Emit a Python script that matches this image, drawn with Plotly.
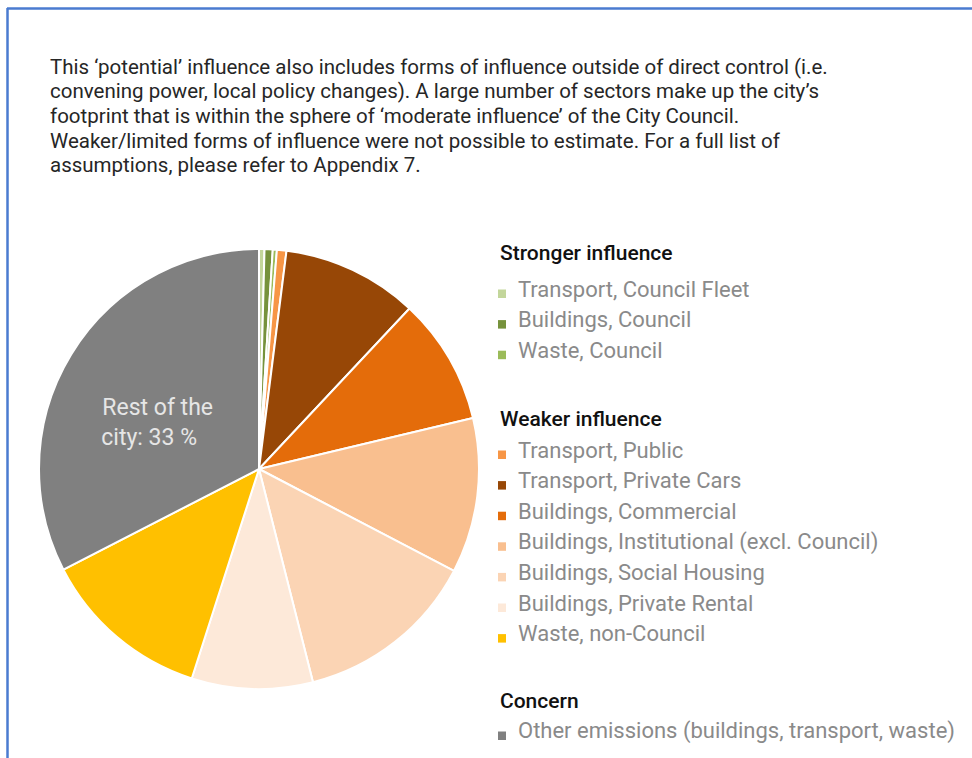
import plotly.graph_objects as go

W, H = 972, 758

# ---- data ----
categories = [
    "Transport, Council Fleet",
    "Buildings, Council",
    "Waste, Council",
    "Transport, Public",
    "Transport, Private Cars",
    "Buildings, Commercial",
    "Buildings, Institutional (excl. Council)",
    "Buildings, Social Housing",
    "Buildings, Private Rental",
    "Waste, non-Council",
    "Other emissions (buildings, transport, waste)",
]
values = [0.4, 0.6, 0.3, 0.7, 10.0, 9.3, 11.4, 13.4, 8.9, 12.5, 32.6]
groups = ["Stronger influence"] * 3 + ["Weaker influence"] * 7 + ["Concern"]
group_titles = ["Stronger influence", "Weaker influence", "Concern"]
colors = ["#c3d69b", "#76923c", "#9bbb59", "#f79646", "#974706", "#e46c0a",
          "#f9bf8f", "#fbd4b4", "#fde9d9", "#ffc000", "#808080"]
labelled_slice = "Other emissions (buildings, transport, waste)"
labelled_prefix = "Rest of the<br>city: "

paragraph = [
    "This \u2018potential\u2019 influence also includes forms of influence outside of direct control (i.e.",
    "convening power, local policy changes). A large number of sectors make up the city\u2019s",
    "footprint that is within the sphere of \u2018moderate influence\u2019 of the City Council.",
    "Weaker/limited forms of influence were not possible to estimate. For a full list of",
    "assumptions, please refer to Appendix 7.",
]

total = sum(values)
slice_text = [
    ("\u00a0<br>" + labelled_prefix + f"{round(v / total * 100)} %" + "\u00a0" * 3) if c == labelled_slice else ""
    for c, v in zip(categories, values)
]

def py(px):
    return 1 - px / H

def pxx(px):
    return px / W

cx, cy, r = 259, 469, 220

fig = go.Figure()
fig.add_trace(go.Pie(
    labels=categories,
    values=values,
    text=slice_text,
    textinfo="text",
    textposition="inside",
    insidetextorientation="horizontal",
    textfont=dict(family="Roboto", size=23, color="#e6e6e6"),
    marker=dict(colors=colors, line=dict(color="white", width=2)),
    sort=False,
    direction="clockwise",
    rotation=0,
    showlegend=False,
    domain=dict(x=[pxx(cx - r), pxx(cx + r)], y=[py(cy + r), py(cy - r)]),
))

annotations = []
shapes = []

# paragraph
for i, line in enumerate(paragraph):
    annotations.append(dict(
        text=line, x=pxx(48), y=py(67 + 24.5 * i), xref="paper", yref="paper",
        xanchor="left", yanchor="middle", showarrow=False,
        font=dict(family="Roboto", size=20.5, color="#262626"),
    ))

# legend
header_y = {"Stronger influence": 253, "Weaker influence": 419, "Concern": 701}
first_item_y = {"Stronger influence": 289, "Weaker influence": 450, "Concern": 731}
step = 30.6
for g in group_titles:
    annotations.append(dict(
        text=g, x=pxx(498), y=py(header_y[g]), xref="paper", yref="paper",
        xanchor="left", yanchor="middle", showarrow=False,
        font=dict(family="Roboto", size=21, color="#111111", weight=500),
    ))
    k = 0
    for c, col, gg in zip(categories, colors, groups):
        if gg != g:
            continue
        yc = first_item_y[g] + step * k
        annotations.append(dict(
            text=c, x=pxx(516), y=py(yc), xref="paper", yref="paper",
            xanchor="left", yanchor="middle", showarrow=False,
            font=dict(family="Roboto", size=22, color="#8a8a8a"),
        ))
        shapes.append(dict(
            type="rect", xref="paper", yref="paper",
            x0=pxx(498), x1=pxx(506), y0=py(yc + 9), y1=py(yc + 0.5),
            fillcolor=col, line=dict(width=0),
        ))
        k += 1

# blue frame (top and left edges)
shapes.append(dict(type="line", xref="paper", yref="paper",
                   x0=pxx(7), x1=1, y0=py(8.5), y1=py(8.5),
                   line=dict(color="#4a7bd0", width=2.5)))
shapes.append(dict(type="line", xref="paper", yref="paper",
                   x0=pxx(7.5), x1=pxx(7.5), y0=py(8), y1=0,
                   line=dict(color="#4a7bd0", width=2.5)))

fig.update_layout(
    width=W, height=H,
    margin=dict(l=0, r=0, t=0, b=0),
    paper_bgcolor="white", plot_bgcolor="white",
    annotations=annotations, shapes=shapes,
)

fig.write_html("out.html")
